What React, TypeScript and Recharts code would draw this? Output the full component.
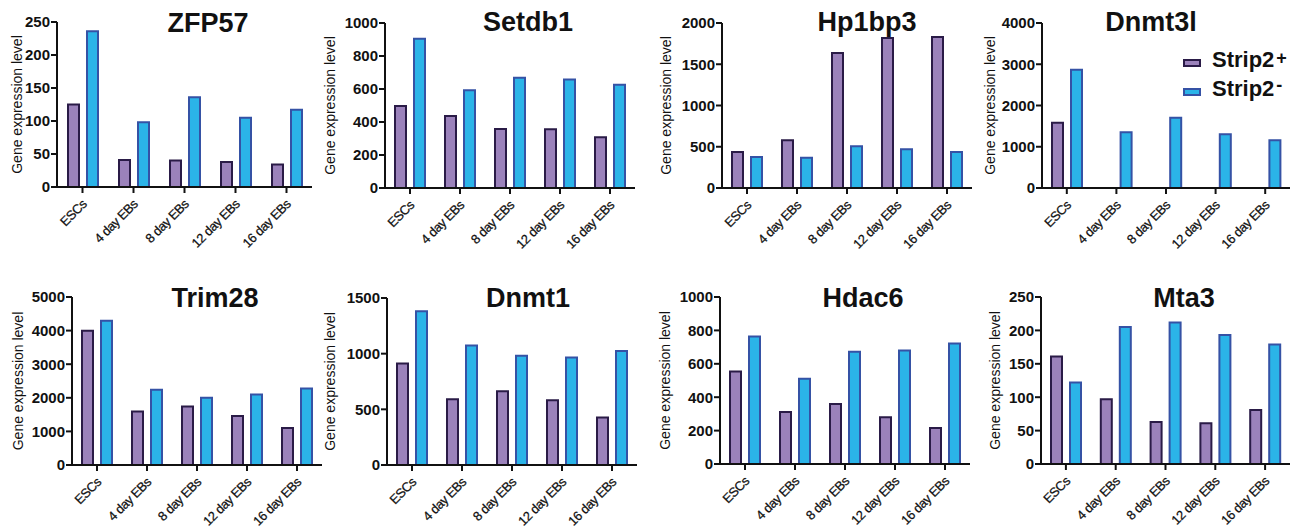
import React from "react";
import { BarChart, Bar, XAxis, YAxis, Legend } from "recharts";

const stages = ["ESCs", "4 day EBs", "8 day EBs", "12 day EBs", "16 day EBs"];

const zfp57Plus = [125, 41, 40, 38, 34];
const zfp57Minus = [236, 98, 136, 105, 117];
const setdb1Plus = [497, 437, 358, 356, 308];
const setdb1Minus = [905, 592, 668, 658, 626];
const hp1bp3Plus = [436, 578, 1636, 1818, 1830];
const hp1bp3Minus = [376, 368, 505, 469, 436];
const dnmt3lPlus = [1584, 0, 0, 0, 0];
const dnmt3lMinus = [2869, 1350, 1705, 1301, 1156];
const trim28Plus = [3995, 1590, 1740, 1461, 1103];
const trim28Minus = [4290, 2237, 1998, 2097, 2276];
const dnmt1Plus = [912, 591, 663, 582, 426];
const dnmt1Minus = [1380, 1074, 981, 966, 1023];
const hdac6Plus = [554, 312, 360, 280, 216];
const hdac6Minus = [764, 510, 672, 680, 722];
const mta3Plus = [161, 97, 63, 61, 81];
const mta3Minus = [122, 205, 212, 193, 179];

const ticks250 = [0, 50, 100, 150, 200, 250];
const ticks1000 = [0, 200, 400, 600, 800, 1000];
const ticks1500 = [0, 500, 1000, 1500];
const ticks2000 = [0, 500, 1000, 1500, 2000];
const ticks4000 = [0, 1000, 2000, 3000, 4000];
const ticks5000 = [0, 1000, 2000, 3000, 4000, 5000];

const legendNames = ["Strip2", "Strip2"];
const legendSups = ["+", "-"];

const font = "'Liberation Sans', Arial, sans-serif";
const ink = "#111111";
const plusFill = "#9b82bb";
const plusStroke = "#2a1b47";
const minusFill = "#2bb4e8";
const minusStroke = "#3552a5";

// each chart box starts SLACK px left of its column so the axis title is not cut
const SLACK = 14;
const W = 328 + SLACK;
const H = 264;
const XH = 60;

interface Panel {
  title: string;
  plus: number[];
  minus: number[];
  ticks: number[];
  col: number;
  row: number;
  axisX: number;
  topY: number;
  zeroY: number;
  endX: number;
  labelX: number;
  titleX: number;
  titleY: number;
}

const panels: Panel[] = [
  { title: "ZFP57", plus: zfp57Plus, minus: zfp57Minus, ticks: ticks250, col: 0, row: 0, axisX: 57, topY: 22, zeroY: 187, endX: 312, labelX: 17, titleX: 208, titleY: 33 },
  { title: "Setdb1", plus: setdb1Plus, minus: setdb1Minus, ticks: ticks1000, col: 325, row: 0, axisX: 385, topY: 23, zeroY: 188, endX: 635, labelX: 330, titleX: 528, titleY: 32 },
  { title: "Hp1bp3", plus: hp1bp3Plus, minus: hp1bp3Minus, ticks: ticks2000, col: 650, row: 0, axisX: 722, topY: 23, zeroY: 188, endX: 972, labelX: 666, titleX: 867, titleY: 32 },
  { title: "Dnmt3l", plus: dnmt3lPlus, minus: dnmt3lMinus, ticks: ticks4000, col: 975, row: 0, axisX: 1042, topY: 23, zeroY: 188, endX: 1290, labelX: 990, titleX: 1151, titleY: 32 },
  { title: "Trim28", plus: trim28Plus, minus: trim28Minus, ticks: ticks5000, col: 0, row: 264, axisX: 72, topY: 297, zeroY: 465, endX: 322, labelX: 18, titleX: 215, titleY: 308 },
  { title: "Dnmt1", plus: dnmt1Plus, minus: dnmt1Minus, ticks: ticks1500, col: 325, row: 264, axisX: 387, topY: 298, zeroY: 465, endX: 637, labelX: 330, titleX: 528, titleY: 308 },
  { title: "Hdac6", plus: hdac6Plus, minus: hdac6Minus, ticks: ticks1000, col: 650, row: 264, axisX: 720, topY: 297, zeroY: 464, endX: 970, labelX: 665, titleX: 863, titleY: 308 },
  { title: "Mta3", plus: mta3Plus, minus: mta3Minus, ticks: ticks250, col: 975, row: 264, axisX: 1041, topY: 297, zeroY: 464, endX: 1290, labelX: 995, titleX: 1184, titleY: 308 },
];

const StageTick = (props: any) => {
  const { x, y, payload } = props;
  const ax = x + 5;
  const ay = y + 10;
  return (
    <text
      x={ax}
      y={ay}
      transform={`rotate(-45, ${ax}, ${ay})`}
      textAnchor="end"
      fontSize={13}
      letterSpacing={-0.5}
      fontFamily={font}
      fill={ink}
      stroke={ink}
      strokeWidth={0.25}
    >
      {payload.value}
    </text>
  );
};

const LevelTick = (props: any) => {
  const { x, y, payload } = props;
  return (
    <text x={x} y={y} dy="0.36em" textAnchor="end" fontSize={15} fontWeight="bold" fontFamily={font} fill={ink}>
      {payload.value}
    </text>
  );
};

const StripLegend = () => {
  const fills = [plusFill, minusFill];
  const strokes = [plusStroke, minusStroke];
  return (
    <div style={{ position: "relative", width: 120, height: 60, fontFamily: font, fontWeight: "bold", color: ink }}>
      {legendNames.map((name, i) => (
        <React.Fragment key={i}>
          <div
            style={{
              position: "absolute",
              left: 0,
              top: 9 + i * 29,
              width: 14,
              height: 4,
              background: fills[i],
              border: `2px solid ${strokes[i]}`,
            }}
          />
          <div style={{ position: "absolute", left: 29, top: i * 29 - 1, fontSize: 22, lineHeight: "22px", whiteSpace: "nowrap" }}>
            {name}
            <span style={{ fontSize: 18, position: "relative", top: i === 0 ? -3 : -5, marginLeft: 2 }}>{legendSups[i]}</span>
          </div>
        </React.Fragment>
      ))}
    </div>
  );
};

const GenePanel = ({ p, showLegend }: { p: Panel; showLegend: boolean }) => {
  const data = stages.map((stage, i) => ({ stage, plus: p.plus[i], minus: p.minus[i] }));
  const left = p.col - SLACK;
  const margin = {
    top: p.topY - p.row,
    right: left + W - p.endX,
    bottom: H - (p.zeroY - p.row) - XH,
    left: 0,
  };
  return (
    <div style={{ position: "absolute", left, top: p.row, width: W, height: H }}>
      <BarChart width={W} height={H} data={data} margin={margin} barGap={8}>
        <XAxis
          dataKey="stage"
          interval={0}
          height={XH}
          tickSize={6}
          tickMargin={2}
          tick={<StageTick />}
          axisLine={{ stroke: ink, strokeWidth: 2 }}
          tickLine={{ stroke: ink, strokeWidth: 2 }}
        />
        <YAxis
          width={p.axisX - left}
          domain={[0, p.ticks[p.ticks.length - 1]]}
          ticks={p.ticks}
          interval={0}
          tickSize={6}
          tickMargin={1}
          tick={<LevelTick />}
          axisLine={{ stroke: ink, strokeWidth: 2 }}
          tickLine={{ stroke: ink, strokeWidth: 2 }}
          label={{
            value: "Gene expression level",
            angle: -90,
            position: "insideLeft",
            offset: p.labelX - left,
            style: { textAnchor: "middle", fontSize: 14, fontFamily: font, fill: ink },
          }}
        />
        <Bar dataKey="plus" name="Strip2+" fill={plusFill} stroke={plusStroke} strokeWidth={2} barSize={11} isAnimationActive={false} />
        <Bar dataKey="minus" name="Strip2-" fill={minusFill} stroke={minusStroke} strokeWidth={2} barSize={11} isAnimationActive={false} />
        {showLegend && (
          <Legend
            layout="horizontal"
            verticalAlign="middle"
            align="center"
            content={<StripLegend />}
            wrapperStyle={{ left: 1183 - left, top: 50, width: 120, height: 60 }}
          />
        )}
      </BarChart>
      <div
        style={{
          position: "absolute",
          left: p.titleX - left,
          top: p.titleY - p.row - 23,
          transform: "translateX(-50%)",
          fontFamily: font,
          fontWeight: "bold",
          fontSize: 27,
          lineHeight: "27px",
          color: ink,
          whiteSpace: "nowrap",
        }}
      >
        {p.title}
      </div>
    </div>
  );
};

export default function App() {
  return (
    <div style={{ position: "absolute", left: 0, top: 0, width: 1303, height: 528, background: "#ffffff", overflow: "hidden" }}>
      {panels.map((p, i) => (
        <GenePanel key={p.title} p={p} showLegend={i === 3} />
      ))}
    </div>
  );
}
